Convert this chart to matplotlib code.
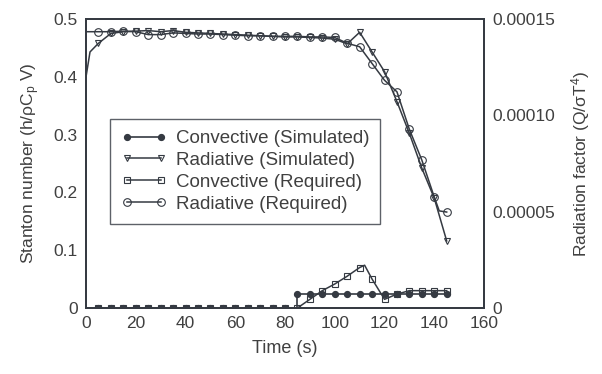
import matplotlib
matplotlib.use("Agg")
import matplotlib.pyplot as plt

plt.rcParams['font.family'] = ['Liberation Sans', 'DejaVu Sans']
plt.rcParams['mathtext.fontset'] = 'custom'
plt.rcParams['mathtext.rm'] = 'Liberation Sans'
plt.rcParams['mathtext.it'] = 'Liberation Sans:italic'

# ---- data ----
conv_sim_t = [0, 5, 10, 15, 20, 25, 30, 35, 40, 45, 50, 55, 60, 65, 70, 75, 80, 85, 85,
              90, 95, 100, 105, 110, 115, 120, 125, 130, 135, 140, 145]
conv_sim = [0, 0, 0, 0, 0, 0, 0, 0, 0, 0, 0, 0, 0, 0, 0, 0, 0, 0, 0.024,
            0.024, 0.024, 0.024, 0.024, 0.024, 0.024, 0.024, 0.024, 0.024, 0.024, 0.024, 0.024]

conv_req_t = [0, 5, 10, 15, 20, 25, 30, 35, 40, 45, 50, 55, 60, 65, 70, 75, 80, 85,
              90, 95, 100, 105, 110, 112, 115, 120, 125, 130, 135, 140, 145]
conv_req = [0, 0, 0, 0, 0, 0, 0, 0, 0, 0, 0, 0, 0, 0, 0, 0, 0, 0,
            0.015, 0.030, 0.0415, 0.055, 0.070, 0.074, 0.050, 0.015, 0.024, 0.030, 0.030, 0.030, 0.030]

rad_sim_t = [0, 1.6, 5, 10, 15, 20, 25, 30, 35, 40, 45, 50, 55, 60, 65, 70, 75, 80, 85,
             90, 95, 100, 105, 110, 115, 120, 125, 130, 135, 140, 145]
rad_sim = [1.20e-4, 1.329e-4, 1.374e-4, 1.425e-4, 1.434e-4, 1.437e-4, 1.440e-4, 1.434e-4, 1.440e-4,
           1.431e-4, 1.428e-4, 1.425e-4, 1.422e-4, 1.419e-4, 1.416e-4, 1.413e-4, 1.410e-4, 1.407e-4,
           1.407e-4, 1.404e-4, 1.401e-4, 1.395e-4, 1.371e-4, 1.431e-4, 1.329e-4, 1.227e-4, 1.071e-4,
           0.906e-4, 0.726e-4, 0.570e-4, 0.348e-4]

rad_req_t = [0, 5, 10, 15, 20, 25, 30, 35, 40, 45, 50, 55, 60, 65, 70, 75, 80, 85,
             90, 95, 100, 105, 110, 115, 120, 125, 130, 135, 140, 142, 145]
rad_req = [1.434e-4, 1.434e-4, 1.434e-4, 1.437e-4, 1.434e-4, 1.419e-4, 1.419e-4, 1.428e-4, 1.425e-4,
           1.422e-4, 1.422e-4, 1.419e-4, 1.416e-4, 1.413e-4, 1.413e-4, 1.410e-4, 1.410e-4, 1.410e-4,
           1.407e-4, 1.407e-4, 1.404e-4, 1.374e-4, 1.356e-4, 1.269e-4, 1.182e-4, 1.122e-4, 0.927e-4,
           0.768e-4, 0.576e-4, 0.504e-4, 0.498e-4]

x_ticks = [0, 20, 40, 60, 80, 100, 120, 140, 160]
left_ticks = [0, 0.1, 0.2, 0.3, 0.4, 0.5]
left_labels = ['0', '0.1', '0.2', '0.3', '0.4', '0.5']
right_ticks = [0, 0.00005, 0.0001, 0.00015]
right_labels = ['0', '0.00005', '0.00010', '0.00015']

labels = ['Convective (Simulated)', 'Radiative (Simulated)',
          'Convective (Required)', 'Radiative (Required)']


def marks(ts):
    return [i for i, t in enumerate(ts)
            if t > 0 and t % 5 == 0 and (i + 1 == len(ts) or ts[i + 1] != t)]


C = '#353a42'
TXT = '#404040'

fig = plt.figure(figsize=(6.02, 3.74), dpi=100)
ax = fig.add_axes([0.1429, 0.1765, 0.6611, 0.7727])
ax2 = ax.twinx()

l1, = ax.plot(conv_sim_t, conv_sim, color=C, lw=1.2, marker='o', ms=4.2,
              mfc=C, mec=C, markevery=marks(conv_sim_t))
l3, = ax.plot(conv_req_t, conv_req, color=C, lw=1.1, marker='s', ms=5,
              mfc='none', mec=C, mew=0.8, markevery=marks(conv_req_t))
l2, = ax2.plot(rad_sim_t, rad_sim, color=C, lw=1.1, marker='v', ms=5,
               mfc='none', mec=C, mew=0.8, markevery=marks(rad_sim_t))
l4, = ax2.plot(rad_req_t, rad_req, color=C, lw=1.1, marker='o', ms=5.5,
               mfc='none', mec=C, mew=0.8, markevery=marks(rad_req_t))

ax.set_xlim(0, 160)
ax.set_ylim(0, 0.5)
ax2.set_ylim(0, 0.00015)
ax.set_xticks(x_ticks)
ax.set_xticklabels([str(v) for v in x_ticks])
ax.set_yticks(left_ticks)
ax.set_yticklabels(left_labels)
ax2.set_yticks(right_ticks)
ax2.set_yticklabels(right_labels)

for a in (ax, ax2):
    a.tick_params(length=0, labelsize=12.5, labelcolor=TXT, pad=6)
    for s in a.spines.values():
        s.set_color(C)
        s.set_linewidth(1.3)

ax.set_xlabel('Time (s)', fontsize=13, color=TXT, labelpad=6)
ax.set_ylabel('Stanton number (h/ρC$_\\mathregular{p}$ V)', fontsize=12.5, color=TXT, labelpad=8)
ax2.set_ylabel('Radiation factor (Q/σT$^\\mathregular{4}$)', fontsize=12.5, color=TXT, labelpad=10)

leg = ax2.legend([l1, l2, l3, l4], labels, loc='upper left',
                 bbox_to_anchor=(0.06, 0.655), fontsize=13.5, frameon=True,
                 fancybox=False, numpoints=2, handlelength=2.4,
                 labelspacing=0.25, borderpad=0.6, handletextpad=0.5,
                 borderaxespad=0)
leg.get_frame().set_edgecolor(C)
leg.get_frame().set_linewidth(1.0)
for t in leg.get_texts():
    t.set_color(TXT)

fig.savefig('out.png', dpi=100)
